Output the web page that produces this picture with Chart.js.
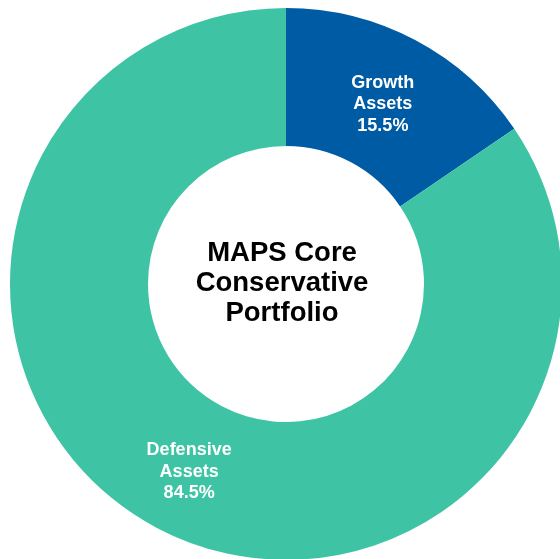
<!DOCTYPE html>
<html>
<head>
<meta charset="utf-8">
<script src="https://cdn.jsdelivr.net/npm/chart.js@4/dist/chart.umd.min.js"></script>
<style>
  html, body { margin: 0; padding: 0; background: #fff; overflow: hidden; }
  #wrap { width: 580px; height: 580px; }
</style>
</head>
<body>
<div id="wrap"><canvas id="chart"></canvas></div>
<script>
// data
const categories = ['Growth Assets', 'Defensive Assets'];
const labelLines = [['Growth', 'Assets'], ['Defensive', 'Assets']];
const values = [15.5, 84.5];
const colors = ['#005BA5', '#3EC4A4'];
const centerTitle = ['MAPS Core', 'Conservative', 'Portfolio'];

// slice labels at the centroid of each arc
const sliceLabels = {
    id: 'sliceLabels',
    afterDatasetsDraw(chart) {
        const ctx = chart.ctx;
        const meta = chart.getDatasetMeta(0);
        ctx.save();
        ctx.fillStyle = '#ffffff';
        ctx.font = 'bold 18px "Liberation Sans", Arial, sans-serif';
        ctx.textAlign = 'center';
        ctx.textBaseline = 'middle';
        meta.data.forEach((arc, i) => {
            const p = arc.tooltipPosition();
            const lines = labelLines[i].concat([values[i].toFixed(1) + '%']);
            const lh = 21.5;
            const dy = i === 0 ? 3 : 5;
            lines.forEach((t, j) => {
                ctx.fillText(t, p.x, p.y + (j - 1) * lh + dy);
            });
        });
        ctx.restore();
    }
};

// title in the hole
const centerText = {
    id: 'centerText',
    afterDatasetsDraw(chart) {
        const ctx = chart.ctx;
        const arc = chart.getDatasetMeta(0).data[0];
        ctx.save();
        ctx.fillStyle = '#000000';
        ctx.font = 'bold 27.5px "Liberation Sans", Arial, sans-serif';
        ctx.textAlign = 'center';
        ctx.textBaseline = 'alphabetic';
        const lh = 30;
        centerTitle.forEach((t, j) => {
            ctx.fillText(t, arc.x - 4, arc.y + 7 + (j - 1) * lh);
        });
        ctx.restore();
    }
};

new Chart(document.getElementById('chart'), {
    type: 'doughnut',
    data: {
        labels: categories,
        datasets: [{
            data: values,
            backgroundColor: colors,
            borderWidth: 0
        }]
    },
    options: {
        responsive: true,
        maintainAspectRatio: false,
        animation: false,
        cutout: '50%',
        layout: { padding: { left: 10, top: 8, right: 18, bottom: 20 } },
        plugins: {
            legend: { display: false },
            tooltip: { enabled: false }
        }
    },
    plugins: [sliceLabels, centerText]
});
</script>
</body>
</html>
